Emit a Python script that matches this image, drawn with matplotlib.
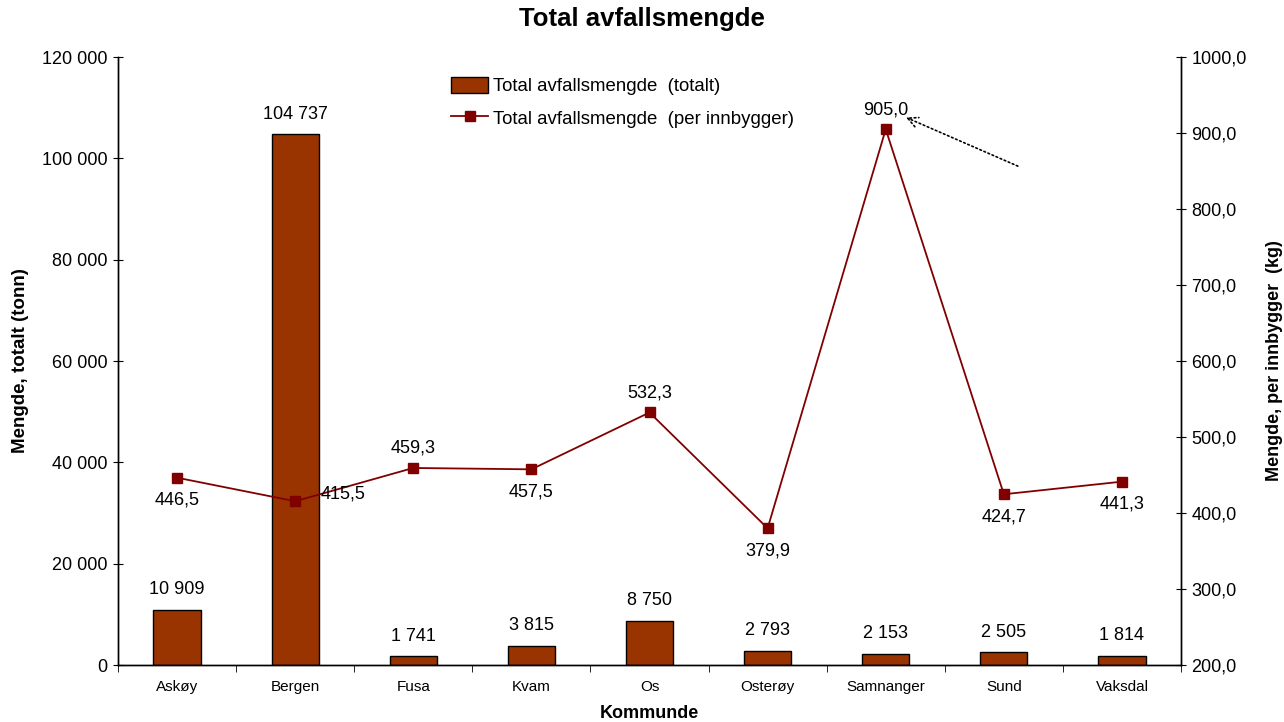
import numpy as np
import matplotlib
matplotlib.use("Agg")
import matplotlib.pyplot as plt
from matplotlib.ticker import FuncFormatter, FixedLocator

plt.rcParams['font.family'] = ['Liberation Sans', 'DejaVu Sans']

kommuner = ["Askøy", "Bergen", "Fusa", "Kvam", "Os", "Osterøy", "Samnanger", "Sund", "Vaksdal"]
totalt = [10909, 104737, 1741, 3815, 8750, 2793, 2153, 2505, 1814]
per_innbygger = [446.5, 415.5, 459.3, 457.5, 532.3, 379.9, 905.0, 424.7, 441.3]
# where each per-innbygger label sits relative to its marker
label_pos = ["below", "right", "above", "below", "above", "below", "above", "below", "below"]


def fmt_thousands(v, pos=None):
    return f"{int(round(v)):,}".replace(",", " ")


def fmt_dec(v, pos=None):
    return f"{v:.1f}".replace(".", ",")


def main():
    fig = plt.figure(figsize=(12.84, 7.22), dpi=100)
    ax = fig.add_axes([0.0919, 0.0789, 0.8279, 0.8421])
    ax2 = ax.twinx()

    x = np.arange(len(kommuner))
    bars = ax.bar(x, totalt, width=0.4, color="#993300", edgecolor="black",
                  linewidth=1, label="Total avfallsmengde  (totalt)", zorder=2)
    ax.set_xlim(-0.5, len(kommuner) - 0.5)
    ax.set_ylim(0, 120000)
    ax.set_yticks(np.arange(0, 120001, 20000))
    ax.yaxis.set_major_formatter(FuncFormatter(fmt_thousands))
    ax.set_xticks(x)
    ax.set_xticklabels(kommuner)
    ax.xaxis.set_minor_locator(FixedLocator(np.arange(-0.5, len(kommuner), 1.0)))
    ax.tick_params(axis="x", which="major", length=0, pad=11, labelsize=11)
    ax.tick_params(axis="x", which="minor", direction="out", length=5)
    ax.tick_params(axis="y", direction="inout", length=7, labelsize=13, pad=4)

    for xi, v in zip(x, totalt):
        ax.text(xi, v + 2300, fmt_thousands(v), ha="center", va="bottom", fontsize=13)

    line, = ax2.plot(x, per_innbygger, color="#800000", marker="s", markersize=6.5,
                     linewidth=1.3, label="Total avfallsmengde  (per innbygger)", zorder=3)
    ax2.set_ylim(200, 1000)
    ax2.set_yticks(np.arange(200, 1001, 100))
    ax2.yaxis.set_major_formatter(FuncFormatter(fmt_dec))
    ax2.tick_params(axis="y", direction="inout", length=7, labelsize=13, pad=4)

    for xi, v, p in zip(x, per_innbygger, label_pos):
        s = fmt_dec(v)
        if p == "above":
            ax2.annotate(s, (xi, v), xytext=(0, 8), textcoords="offset points",
                         ha="center", va="bottom", fontsize=13)
        elif p == "below":
            ax2.annotate(s, (xi, v), xytext=(0, -10), textcoords="offset points",
                         ha="center", va="top", fontsize=13)
        else:
            ax2.annotate(s, (xi, v), xytext=(18, 5), textcoords="offset points",
                         ha="left", va="center", fontsize=13)

    # dotted pointer to the Samnanger label
    ax2.annotate("", xy=(6.15, 922), xytext=(7.14, 855),
                 arrowprops=dict(arrowstyle="->", linestyle=":", color="black", lw=1.2,
                                 mutation_scale=18))

    for a in (ax, ax2):
        a.spines["top"].set_visible(False)
        for s in ("left", "right", "bottom"):
            a.spines[s].set_linewidth(1.0)

    ax.set_ylabel("Mengde, totalt (tonn)", fontsize=13.5, fontweight="bold", labelpad=9)
    ax2.set_ylabel("Mengde, per innbygger  (kg)", fontsize=13, fontweight="bold", labelpad=14)
    ax.set_xlabel("Kommunde", fontsize=13, fontweight="bold", labelpad=8)
    fig.suptitle("Total avfallsmengde", fontsize=18.5, fontweight="bold", y=0.99)

    ax2.legend([bars, line], [bars.get_label(), line.get_label()], loc="upper center",
               bbox_to_anchor=(0.475, 0.985), frameon=False, fontsize=13.4,
               handlelength=1.95, handleheight=0.9, handletextpad=0.3,
               labelspacing=0.75, borderaxespad=0.2)

    fig.savefig("out.png", dpi=100)


if __name__ == "__main__":
    main()
